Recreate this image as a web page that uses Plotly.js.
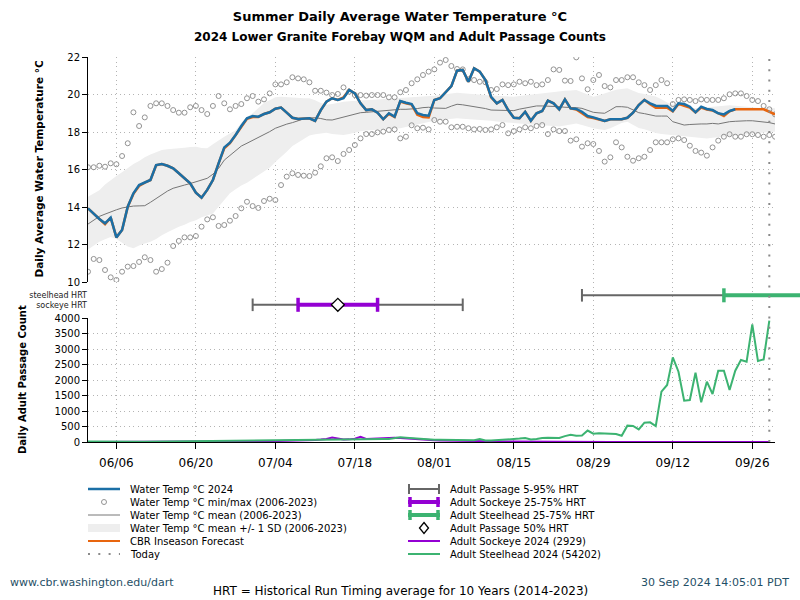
<!DOCTYPE html>
<html><head><meta charset="utf-8">
<script src="https://cdn.plot.ly/plotly-3.0.1.min.js"></script>
<style>html,body{margin:0;padding:0;background:#fff;}#chart{width:800px;height:600px;}</style>
</head><body><div id="chart"></div>
<script>
// ---------------- DATA ----------------
const startDate = '2024-06-01';
const endDate = '2024-09-30';
const todayDate = '2024-09-29';
const tickStart = '2024-06-06';

// Water temperature 2024 (daily, from 2024-06-01)
const temp2024 = [13.93,13.63,13.36,13.13,13.43,12.38,12.77,14.02,14.73,15.17,
 15.30,15.44,16.24,16.29,16.20,16.06,15.80,15.53,15.26,14.76,
 14.50,14.91,15.44,16.33,17.18,17.43,17.84,18.32,18.73,18.85,
 18.82,18.96,19.05,19.24,19.30,19.03,18.76,18.69,18.69,18.73,
 18.59,19.17,19.62,19.80,19.71,19.80,20.24,20.06,19.53,19.17,
 19.21,19.03,18.68,19.00,18.82,19.65,19.56,19.49,19.00,18.91,
 18.87,19.71,19.80,20.15,20.45,21.27,21.31,20.68,21.40,21.22,
 20.77,19.88,19.53,19.71,19.17,18.76,18.73,19.08,18.60,19.00,
 19.12,19.67,19.53,19.21,19.74,19.26,19.23,19.08,18.85,18.78,
 18.69,18.59,18.68,18.68,18.68,18.76,19.03,19.44,19.71,19.53,
 19.40,19.39,19.39,19.12,19.53,19.49,19.35,19.05,19.35,19.23,
 19.17,19.00,18.94,19.12,19.21];

// CBR inseason forecast
const forecast = [13.93,13.63,13.34,13.08,13.43,12.38,12.77,14.02,14.70,15.12,
 15.30,15.44,16.22,16.29,16.20,16.06,15.80,15.53,15.26,14.76,
 14.50,14.91,15.44,16.33,17.13,17.40,17.84,18.30,18.70,18.80,
 18.80,18.96,19.05,19.24,19.30,19.03,18.76,18.69,18.69,18.73,
 18.59,19.17,19.62,19.80,19.71,19.85,20.24,20.06,19.53,19.17,
 19.21,19.03,18.68,18.97,18.80,19.63,19.53,19.46,18.92,18.80,
 18.78,19.71,19.80,20.15,20.45,21.27,21.31,20.68,21.40,21.22,
 20.77,19.85,19.53,19.71,19.17,18.76,18.73,19.08,18.60,19.00,
 19.12,19.67,19.53,19.21,19.74,19.26,19.20,19.00,18.80,18.75,
 18.69,18.59,18.68,18.68,18.68,18.76,19.03,19.44,19.71,19.48,
 19.30,19.30,19.30,19.10,19.50,19.40,19.30,19.05,19.30,19.20,
 19.15,19.00,18.85,19.10,19.21,19.21,19.21,19.21,19.21,19.21,
 19.08,18.94];

// Historical (2006-2023) mean, +/-1 SD, min, max
const tempMean = [13.09,13.30,13.50,13.62,13.75,13.85,13.95,14.00,14.05,14.06,
 14.07,14.25,14.45,14.69,14.85,15.00,15.10,15.17,15.25,15.35,
 15.45,15.53,15.75,16.06,16.50,16.75,17.04,17.25,17.40,17.55,
 17.72,17.88,18.02,18.20,18.32,18.42,18.50,18.60,18.70,18.75,
 18.76,18.72,18.65,18.64,18.72,18.82,18.90,18.97,19.03,19.05,
 19.08,19.10,19.14,19.17,19.19,19.21,19.21,19.21,19.25,19.30,
 19.32,19.28,19.26,19.26,19.38,19.48,19.45,19.40,19.36,19.32,
 19.25,19.17,19.17,19.15,19.14,19.14,19.22,19.28,19.34,19.39,
 19.39,19.39,19.37,19.35,19.32,19.32,19.30,19.26,19.15,19.05,
 19.02,19.00,19.17,19.35,19.35,19.32,19.18,19.03,18.98,18.90,
 18.85,18.85,18.85,18.55,18.45,18.37,18.40,18.43,18.43,18.43,
 18.46,18.43,18.50,18.55,18.57,18.60,18.60,18.60,18.58,18.55,
 18.50,18.43];
const tempSdUpper = [14.55,14.72,14.90,15.20,15.45,15.65,15.85,16.10,16.30,16.45,
 16.65,16.80,16.92,17.04,17.08,17.10,17.13,17.16,17.20,17.22,
 17.15,17.13,17.35,17.57,17.75,17.92,18.10,18.50,18.80,19.00,
 19.30,19.55,19.70,19.85,19.88,19.85,19.82,19.80,19.80,19.80,
 19.70,19.55,19.45,19.50,19.58,19.62,19.64,19.66,19.68,19.70,
 19.71,19.73,19.75,19.77,19.78,19.80,19.82,19.83,19.85,19.87,
 19.88,19.93,19.97,20.02,20.06,20.10,20.07,20.04,20.00,19.98,
 19.97,19.95,19.93,19.91,19.90,19.88,19.92,19.96,20.00,20.03,
 20.06,20.10,20.14,20.17,20.20,20.22,20.24,20.12,20.00,19.88,
 19.96,20.06,20.15,20.25,20.30,20.33,20.20,20.08,20.03,19.95,
 19.90,19.75,19.58,19.47,19.40,19.35,19.28,19.27,19.30,19.34,
 19.37,19.40,19.43,19.42,19.40,19.36,19.34,19.32,19.30,19.28,
 19.27,19.26];
const tempSdLower = [11.74,11.95,12.15,12.28,12.40,12.30,12.10,11.90,11.80,11.95,
 12.05,12.15,12.30,12.50,12.65,12.80,12.95,13.05,13.20,13.30,
 13.45,13.55,13.66,14.02,14.40,14.73,14.95,15.15,15.30,15.50,
 15.70,15.90,16.10,16.40,16.65,16.95,17.25,17.45,17.65,17.82,
 17.88,17.93,17.96,17.90,17.87,17.84,17.90,17.98,18.04,18.08,
 18.11,18.13,18.15,18.17,18.19,18.20,18.27,18.34,18.41,18.48,
 18.55,18.60,18.64,18.68,18.71,18.73,18.71,18.69,18.67,18.66,
 18.64,18.60,18.56,18.53,18.50,18.46,18.44,18.42,18.40,18.39,
 18.37,18.35,18.32,18.30,18.35,18.42,18.46,18.37,18.28,18.20,
 18.15,18.11,18.20,18.35,18.48,18.55,18.40,18.22,18.15,18.04,
 17.95,17.90,17.87,17.84,17.82,17.80,17.77,17.73,17.70,17.66,
 17.70,17.74,17.77,17.80,17.82,17.84,17.88,17.92,17.95,17.98,
 18.00,18.02];
const tempMax = [16.12,16.12,16.20,16.15,16.33,16.28,16.72,17.40,19.05,18.32,
 18.78,19.39,19.53,19.53,19.39,19.17,19.03,19.03,19.32,19.39,
 19.17,18.96,19.39,19.92,19.53,19.21,19.39,19.49,19.80,19.92,
 19.62,19.74,20.06,20.54,20.54,20.65,20.92,20.86,20.81,20.65,
 20.20,20.20,20.10,19.97,20.03,20.38,20.15,19.97,19.97,19.94,
 19.97,19.97,19.97,19.85,19.85,20.12,20.24,20.60,20.81,21.04,
 21.22,21.34,21.70,21.84,21.52,21.36,21.34,20.81,20.77,20.68,
 20.65,20.24,20.29,20.54,20.50,20.54,20.68,20.60,20.68,20.50,
 20.54,20.77,21.34,21.31,20.74,20.72,21.98,20.86,20.28,20.77,
 21.04,20.45,20.38,20.77,20.77,20.92,20.92,20.65,20.50,20.24,
 20.50,20.77,20.60,19.49,19.71,19.74,19.71,19.65,19.74,19.71,
 19.71,19.71,19.80,20.01,20.06,20.06,19.92,19.71,19.65,19.39,
 19.21,18.94];
const tempMin = [10.55,11.23,11.17,10.64,10.25,10.11,10.55,10.82,10.85,11.07,
 11.32,11.17,10.55,10.69,11.03,11.92,12.19,12.38,12.38,12.45,
 12.95,13.34,13.45,12.99,13.04,13.27,13.52,13.93,14.28,14.05,
 13.95,14.32,14.44,14.37,15.17,15.62,15.80,15.71,15.67,15.65,
 15.83,16.17,16.60,16.65,16.45,16.83,17.04,17.31,17.66,17.89,
 17.89,17.98,18.02,18.11,18.14,17.66,17.75,18.36,18.20,18.23,
 18.14,18.64,18.55,18.55,18.25,18.28,18.28,18.20,18.14,18.16,
 18.11,18.14,18.25,18.37,17.93,18.05,18.14,18.25,18.20,18.32,
 18.37,17.89,18.14,18.05,18.05,17.54,17.61,17.22,17.40,17.36,
 16.99,16.42,16.65,17.45,17.18,16.68,16.47,16.60,16.68,17.04,
 17.45,17.45,17.45,17.61,17.66,17.57,17.27,16.99,16.90,16.74,
 17.18,17.54,17.75,17.88,17.75,17.75,17.88,17.88,17.84,17.75,
 17.84,17.75];

// Adult passage counts 2024 (daily, from 2024-06-01)
const sockeye2024 = [0,0,0,0,1,0,1,0,0,1,
 1,0,1,2,1,2,2,3,2,3,
 4,5,6,5,8,10,12,14,16,18,
 20,22,25,28,32,38,30,40,50,60,
 65,80,100,145,100,80,85,105,165,100,
 105,115,120,125,135,130,115,100,80,70,
 60,55,50,45,40,36,32,30,28,25,
 22,20,18,16,14,12,10,9,8,7,
 6,6,5,5,4,4,4,3,3,3,
 3,3,2,2,2,2,2,2,1,1,
 1,1,1,1,1,1,0,1,0,0,
 1,0,1,0,0,1,0,0,1,0,
 0];
const steelhead2024 = [15,12,10,10,8,10,12,10,8,10,
 12,14,10,12,15,20,25,28,30,32,
 30,28,25,20,18,20,22,25,28,30,
 32,35,38,40,42,45,48,50,52,55,
 55,58,60,62,65,68,72,75,78,80,
 85,90,95,100,120,150,135,120,100,90,
 80,75,70,65,65,60,55,50,60,97,
 50,45,55,65,75,85,110,130,80,95,
 129,135,140,130,190,230,200,210,370,270,
 280,280,280,260,200,527,516,408,624,634,
 516,1623,1838,2730,2268,1333,1354,2236,1279,1946,
 1548,2300,2300,1677,2300,2644,2590,3795,2612,2666,
 3913];

// Historical run timing (10-yr average, 2014-2023)
const hrtRows = ['sockeye HRT','steelhead HRT'];
const sockeyeHRT = {p5:'2024-06-30', p25:'2024-07-08', p50:'2024-07-15', p75:'2024-07-22', p95:'2024-08-06'};
const steelheadHRT = {p5:'2024-08-27', p25:'2024-09-21', p50:'2024-10-10', p75:'2024-10-25', p95:'2024-11-20'};

// ---------------- STYLE ----------------
const FONT = 'DejaVu Sans, Verdana, sans-serif';
const BLUE = '#1b6fa6', ORANGE = '#e8650e', MEANC = '#767676', BANDC = '#eeeeee', CIRC = '#939393';
const PURPLE = '#9400d3', GREEN = '#3cb371', HRTGRAY = '#666666', TODAYC = '#8a8a8a';
const DOTDASH = '2px,8.3px';

function dayList(n){
  const out = []; const t0 = Date.parse(startDate + 'T00:00:00Z');
  for (let i = 0; i < n; i++) out.push(new Date(t0 + i*86400000).toISOString().slice(0,10));
  return out;
}
function fmt(ms){ const d = new Date(ms); return d.toISOString().slice(0,19).replace('T',' '); }

// layout geometry (pixels)
const W = 800, H = 600, ML = 88, MR = 0, MT = 57, MB = 158;
const PW = W - ML - MR, PH = H - MT - MB;
const mainW = 687;                 // width of the dated plotting area
const mainFrac = mainW / PW;
const fx = p => (p - ML) / PW;       // pixel -> paper x
const fy = p => (H - MB - p) / PH;   // pixel -> paper y
const domTemp = [fy(282), 1], domHrt = [fy(318), fy(282)], domCnt = [0, fy(318)];
const t0ms = Date.parse(startDate + 'T00:00:00Z'), t1ms = Date.parse(endDate + 'T00:00:00Z');
const hrtRangeEnd = fmt(t0ms + (t1ms - t0ms) / mainFrac);

// ---------------- TRACES ----------------
const dT = dayList(tempMean.length);
const traces = [];
traces.push({x: dT, y: tempSdLower, xaxis:'x', yaxis:'y', mode:'lines', line:{width:0, color:BANDC}, hoverinfo:'skip'});
traces.push({x: dT, y: tempSdUpper, xaxis:'x', yaxis:'y', mode:'lines', line:{width:0, color:BANDC}, fill:'tonexty', fillcolor:BANDC, hoverinfo:'skip'});
traces.push({x: dT, y: tempMean, xaxis:'x', yaxis:'y', mode:'lines', line:{width:1, color:MEANC}});
traces.push({x: dT, y: tempMax, xaxis:'x', yaxis:'y', mode:'markers', marker:{symbol:'circle-open', size:5, color:CIRC, line:{width:1, color:CIRC}}});
traces.push({x: dT, y: tempMin, xaxis:'x', yaxis:'y', mode:'markers', marker:{symbol:'circle-open', size:5, color:CIRC, line:{width:1, color:CIRC}}});
traces.push({x: dayList(forecast.length), y: forecast, xaxis:'x', yaxis:'y', mode:'lines', line:{width:2.5, color:ORANGE}});
traces.push({x: dayList(temp2024.length), y: temp2024, xaxis:'x', yaxis:'y', mode:'lines', line:{width:2.5, color:BLUE}});

function hrtTraces(h, row, color){
  return [
    {x:[h.p5, h.p95], y:[row,row], xaxis:'x2', yaxis:'y2', mode:'lines+markers',
     line:{color:HRTGRAY, width:2}, marker:{symbol:'line-ns', size:9, color:HRTGRAY, line:{color:HRTGRAY, width:2}}},
    {x:[h.p25, h.p75], y:[row,row], xaxis:'x2', yaxis:'y2', mode:'lines+markers',
     line:{color:color, width:4}, marker:{symbol:'line-ns', size:10, color:color, line:{color:color, width:3.5}}},
    {x:[h.p50], y:[row], xaxis:'x2', yaxis:'y2', mode:'markers',
     marker:{symbol:'diamond', size:10, color:'white', line:{color:'black', width:1.3}}}
  ];
}
traces.push(...hrtTraces(sockeyeHRT, 1, PURPLE));
traces.push(...hrtTraces(steelheadHRT, 2, GREEN));

traces.push({x: dayList(sockeye2024.length), y: sockeye2024, xaxis:'x3', yaxis:'y3', mode:'lines', line:{width:2, color:PURPLE}});
traces.push({x: dayList(steelhead2024.length), y: steelhead2024, xaxis:'x3', yaxis:'y3', mode:'lines', line:{width:2, color:GREEN}});

// ---------------- LAYOUT ----------------
const grid = {showgrid:true, gridcolor:'#b4b4b4', griddash:'1px,3.5px', gridwidth:1, zeroline:false};
const xBase = Object.assign({type:'date', tick0:tickStart, dtick:14*86400000, tickformat:'%m/%d', fixedrange:true}, grid);
const tickFont = {family:FONT, size:10, color:'#000'};

const layout = {
  width:W, height:H, margin:{l:ML, r:MR, t:MT, b:MB, pad:0},
  paper_bgcolor:'#fff', plot_bgcolor:'rgba(0,0,0,0)', showlegend:false,
  font:{family:FONT, size:10, color:'#000'},
  title:{text:'Summer Daily Average Water Temperature °C', x:0.5, xanchor:'center', xref:'container',
         y:1-16/H, yanchor:'middle', yref:'container', font:{family:FONT, size:13, weight:'bold', color:'#000'}},
  xaxis: Object.assign({}, xBase, {domain:[0, mainFrac], anchor:'y', range:[startDate, endDate], showticklabels:false, ticks:''}),
  xaxis2: Object.assign({}, xBase, {domain:[0, 1], anchor:'y2', range:[startDate, hrtRangeEnd], showticklabels:false, ticks:''}),
  xaxis3: Object.assign({}, xBase, {domain:[0, mainFrac], anchor:'y3', range:[startDate, endDate], ticks:'outside', ticklen:6,
          tickcolor:'#000', showline:true, linecolor:'#000', linewidth:1, tickfont:{family:FONT, size:12, color:'#000'}, ticklabelstandoff:4}),
  yaxis: Object.assign({}, grid, {domain:domTemp, anchor:'x', range:[10,22], tick0:10, dtick:2, ticks:'outside', ticklen:5,
          tickcolor:'#000', showline:true, linecolor:'#000', linewidth:1, tickfont:tickFont}),
  yaxis2: {domain:domHrt, anchor:'x2', range:[-0.39, 3.4], tickmode:'array', tickvals:[1,2], ticktext:hrtRows,
          showgrid:false, zeroline:false, showline:false, ticks:'', tickfont:{family:FONT, size:8, color:'#222'}},
  yaxis3: Object.assign({}, grid, {domain:domCnt, anchor:'x3', range:[0,4000], tick0:0, dtick:500, ticks:'outside', ticklen:5,
          tickcolor:'#000', showline:true, linecolor:'#000', linewidth:1, tickfont:tickFont}),
  shapes: [
    {type:'line', xref:'x', yref:'paper', x0:todayDate, x1:todayDate, y0:0, y1:1, layer:'above',
     line:{color:TODAYC, width:2, dash:DOTDASH}}
  ],
  annotations: []
};

const ann = layout.annotations, shp = layout.shapes;
function addText(text, px, py, opts){
  ann.push(Object.assign({text:text, xref:'paper', yref:'paper', x:fx(px), y:fy(py), showarrow:false,
    xanchor:'left', yanchor:'middle', font:{family:FONT, size:10, color:'#000'}}, opts||{}));
}
addText('2024 Lower Granite Forebay WQM and Adult Passage Counts', 400, 37, {xanchor:'center', font:{family:FONT, size:12, weight:'bold', color:'#000'}});
addText('Daily Average Water Temperature °C', 38, 169.5, {xanchor:'center', textangle:-90, font:{family:FONT, size:10.5, weight:'bold', color:'#000'}});
addText('Daily Adult Passage Count', 22, 380, {xanchor:'center', textangle:-90, font:{family:FONT, size:10, weight:'bold', color:'#000'}});
addText('www.cbr.washington.edu/dart', 8, 582, {font:{family:FONT, size:11, color:'#1f4f66'}});
addText('30 Sep 2024 14:05:01 PDT', 791, 582, {xanchor:'right', font:{family:FONT, size:11, color:'#1f4f66'}});
addText('HRT = Historical Run Timing average for 10 Years (2014-2023)', 400, 591, {xanchor:'center', font:{family:FONT, size:12, color:'#000'}});

// ---------------- LEGEND (two columns) ----------------
const legendLeft = [
  {label:'Water Temp °C 2024', sym:'line', color:BLUE, width:2.5},
  {label:'Water Temp °C min/max (2006-2023)', sym:'circle'},
  {label:'Water Temp °C mean (2006-2023)', sym:'line', color:MEANC, width:1},
  {label:'Water Temp °C mean +/- 1 SD (2006-2023)', sym:'band'},
  {label:'CBR Inseason Forecast', sym:'line', color:ORANGE, width:2},
  {label:'Today', sym:'line', color:TODAYC, width:2, dash:DOTDASH}
];
const legendRight = [
  {label:'Adult Passage 5-95% HRT', sym:'caps', color:HRTGRAY, width:2},
  {label:'Adult Sockeye 25-75% HRT', sym:'caps', color:PURPLE, width:4},
  {label:'Adult Steelhead 25-75% HRT', sym:'caps', color:GREEN, width:4},
  {label:'Adult Passage 50% HRT', sym:'diamond'},
  {label:'Adult Sockeye 2024 (2929)', sym:'line', color:PURPLE, width:2},
  {label:'Adult Steelhead 2024 (54202)', sym:'line', color:GREEN, width:2}
];
const legRows = [489, 502, 515, 528, 541, 554];
function drawLegend(items, x0, x1, xt){
  items.forEach((it, i) => {
    const yy = legRows[i], xc = (x0 + x1) / 2;
    const base = {xref:'paper', yref:'paper'};
    if (it.sym === 'line') {
      shp.push(Object.assign({type:'line', x0:fx(x0), x1:fx(x1), y0:fy(yy), y1:fy(yy), line:{color:it.color, width:it.width, dash:it.dash||'solid'}}, base));
    } else if (it.sym === 'band') {
      shp.push(Object.assign({type:'rect', x0:fx(x0), x1:fx(x1), y0:fy(yy+4), y1:fy(yy-4), fillcolor:BANDC, line:{width:0}}, base));
    } else if (it.sym === 'circle') {
      shp.push(Object.assign({type:'circle', xsizemode:'pixel', ysizemode:'pixel', xanchor:fx(xc), yanchor:fy(yy), x0:-2.5, x1:2.5, y0:-2.5, y1:2.5, line:{color:CIRC, width:1}}, base));
    } else if (it.sym === 'caps') {
      shp.push(Object.assign({type:'line', x0:fx(x0), x1:fx(x1), y0:fy(yy), y1:fy(yy), line:{color:it.color, width:it.width}}, base));
      [x0 + it.width/2, x1 - it.width/2].forEach(xe => shp.push(Object.assign({type:'line', x0:fx(xe), x1:fx(xe), y0:fy(yy-5), y1:fy(yy+5), line:{color:it.color, width:it.width === 2 ? 2 : 3.5}}, base)));
    } else if (it.sym === 'diamond') {
      shp.push(Object.assign({type:'path', xsizemode:'pixel', ysizemode:'pixel', xanchor:fx(xc), yanchor:fy(yy), path:'M0,5.5L4.5,0L0,-5.5L-4.5,0Z', fillcolor:'#fff', line:{color:'#000', width:1.3}}, base));
    }
    addText(it.label, xt, yy);
  });
}
drawLegend(legendLeft, 88, 120, 128);
drawLegend(legendRight, 408, 440, 448);

Plotly.newPlot('chart', traces, layout, {displayModeBar:false, staticPlot:true});
</script>
</body></html>
